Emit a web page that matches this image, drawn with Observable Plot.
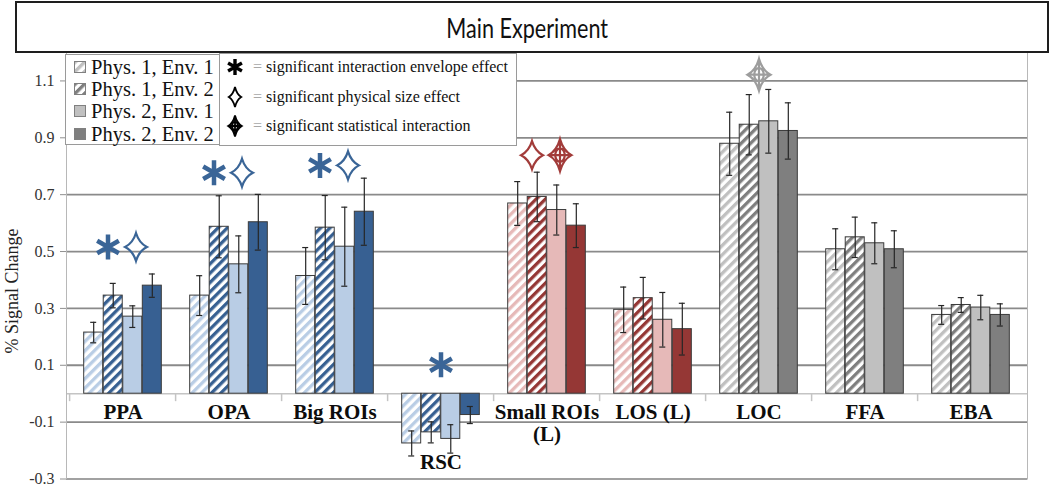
<!DOCTYPE html>
<html><head><meta charset="utf-8">
<script src="https://cdn.jsdelivr.net/npm/d3@7"></script>
<script src="https://cdn.jsdelivr.net/npm/@observablehq/plot@0.6"></script>
<style>
body{margin:0;background:#fff;width:1050px;height:485px;position:relative;overflow:hidden;font-family:"Liberation Serif",serif}
#title{position:absolute;left:15px;top:1px;width:1034px;height:52px;box-sizing:border-box;border:2px solid #1e1e1e;display:flex;align-items:center;justify-content:center;text-align:center;font-family:Lato,sans-serif;font-size:27px;color:#111;z-index:3;background:#fff;padding-right:10px}
#title span{display:inline-block;transform:scaleX(0.8)}
#chart{position:absolute;left:0;top:52px}
#ylabel{position:absolute;left:12px;top:291px;transform:translate(-50%,-50%) rotate(-90deg);font-size:18px;white-space:nowrap;color:#222;z-index:2}
.lg{position:absolute;background:#fff;border:1px solid #9a9a9a;box-sizing:border-box;z-index:2}
.row{position:absolute;display:flex;align-items:center;white-space:nowrap;color:#111}
</style></head><body>
<div id="title"><span>Main Experiment</span></div>
<div id="chart"></div>
<div id="ylabel">% Signal Change</div>
<div id="lg1" class="lg" style="left:65px;top:54px;width:155px;height:91px"></div>
<div id="lg2" class="lg" style="left:219px;top:53px;width:298px;height:93px"></div>
<script>
// ---------- data ----------
const categories = ["PPA","OPA","Big ROIs","RSC","Small ROIs (L)","LOS (L)","LOC","FFA","EBA"];
const categoryLabels = ["PPA","OPA","Big ROIs","RSC","Small ROIs\n(L)","LOS (L)","LOC","FFA","EBA"];
const categoryFamily = ["blue","blue","blue","blue","red","red","gray","gray","gray"];
const series = ["Phys. 1, Env. 1","Phys. 1, Env. 2","Phys. 2, Env. 1","Phys. 2, Env. 2"];

const phys1env1 = [0.215, 0.345, 0.414, -0.175, 0.669, 0.295, 0.879, 0.508, 0.277];
const phys1env2 = [0.345, 0.587, 0.584, -0.136, 0.692, 0.336, 0.946, 0.550, 0.312];
const phys2env1 = [0.271, 0.455, 0.517, -0.159, 0.646, 0.260, 0.958, 0.529, 0.303];
const phys2env2 = [0.380, 0.603, 0.640, -0.075, 0.591, 0.227, 0.924, 0.508, 0.277];

const err1 = [0.036, 0.070, 0.100, 0.044, 0.077, 0.080, 0.111, 0.072, 0.033];
const err2 = [0.043, 0.109, 0.113, 0.037, 0.087, 0.073, 0.106, 0.071, 0.026];
const err3 = [0.038, 0.100, 0.139, 0.050, 0.088, 0.096, 0.112, 0.072, 0.043];
const err4 = [0.041, 0.098, 0.118, 0.030, 0.077, 0.091, 0.099, 0.065, 0.039];

const yTicks = [-0.3, -0.1, 0.1, 0.3, 0.5, 0.7, 0.9, 1.1];

const markerCategories = ["PPA","PPA","OPA","OPA","Big ROIs","Big ROIs","RSC","Small ROIs (L)","Small ROIs (L)","LOC"];
const markerKinds = ["asterisk","diamond","asterisk","diamond","asterisk","diamond","asterisk","diamond","crossDiamond","crossDiamond"];
const markerLevels = [0.516, 0.516, 0.777, 0.777, 0.803, 0.803, 0.102, 0.839, 0.839, 1.122];

const legendKinds = ["asterisk","diamond","crossDiamond"];
const legendNotes = ["significant interaction envelope effect","significant physical size effect","significant statistical interaction"];

// ---------- styles ----------
const palette = {
  blue: {light:"#b9cde5", dark:"#376092", mark:"#3a6597"},
  red:  {light:"#e6b9b8", dark:"#953735", mark:"#a23c3a"},
  gray: {light:"#c0c0c0", dark:"#7f7f7f", mark:"#9d9d9d"}
};

// hatch patterns
const defs = d3.select("body").append("svg").attr("width",0).attr("height",0)
  .style("position","absolute").append("defs");
for (const [fam, c] of Object.entries(palette)) {
  for (const tone of ["light","dark"]) {
    const p = defs.append("pattern").attr("id", `hatch-${fam}-${tone}`)
      .attr("patternUnits","userSpaceOnUse").attr("width",6.6).attr("height",6.6)
      .attr("patternTransform","rotate(45)");
    p.append("rect").attr("width",6.6).attr("height",6.6).attr("fill","#fff");
    p.append("rect").attr("width",3.3).attr("height",6.6).attr("fill",c[tone]);
  }
}

// symbol shapes
function starPath(ctx, w, h, k) {
  ctx.moveTo(0,-h);
  ctx.quadraticCurveTo(w*k, -h*k, w, 0);
  ctx.quadraticCurveTo(w*k, h*k, 0, h);
  ctx.quadraticCurveTo(-w*k, h*k, -w, 0);
  ctx.quadraticCurveTo(-w*k, -h*k, 0, -h);
  ctx.closePath();
}
function asteriskPath(ctx, r) {
  const t = r*Math.sin(Math.PI/6), u = r*Math.cos(Math.PI/6);
  ctx.moveTo(0,-r); ctx.lineTo(0,r);
  ctx.moveTo(-u,-t); ctx.lineTo(u,t);
  ctx.moveTo(-u,t); ctx.lineTo(u,-t);
}
function crossPath(ctx, w, h) {
  starPath(ctx, w, h, 0.28);
  ctx.moveTo(0,-h); ctx.lineTo(0,h);
  ctx.moveTo(-w,0); ctx.lineTo(w,0);
  const a = w*0.42, b = h*0.42;
  ctx.moveTo(0,-b); ctx.quadraticCurveTo(a*0.9,-b*0.9,a,0); ctx.quadraticCurveTo(a*0.9,b*0.9,0,b);
  ctx.quadraticCurveTo(-a*0.9,b*0.9,-a,0); ctx.quadraticCurveTo(-a*0.9,-b*0.9,0,-b); ctx.closePath();
}
const symbols = {
  asterisk: {draw(ctx, size){ asteriskPath(ctx, Math.sqrt(size/Math.PI)); }},
  diamond: {draw(ctx, size){ const h = Math.sqrt(size/Math.PI); starPath(ctx, h*0.78, h, 0.28); }},
  crossDiamond: {draw(ctx, size){ const h = Math.sqrt(size/Math.PI); crossPath(ctx, h*0.72, h); }}
};
const symbolStyle = {
  asterisk: {r: 12.5, strokeWidth: 4.5},
  diamond: {r: 14, strokeWidth: 2.2},
  crossDiamond: {r: 16, strokeWidth: 2.2}
};

// ---------- table ----------
const values = [phys1env1, phys1env2, phys2env1, phys2env2];
const errors = [err1, err2, err3, err4];
const rows = [];
series.forEach((s, si) => categories.forEach((c, ci) => {
  const fam = categoryFamily[ci];
  const fill = si === 0 ? `url(#hatch-${fam}-light)` : si === 1 ? `url(#hatch-${fam}-dark)`
             : si === 2 ? palette[fam].light : palette[fam].dark;
  rows.push({series: s, si, cat: c, v: values[si][ci], e: errors[si][ci], fill});
}));
const labelRows = categories.map((c, ci) => ({
  cat: c, label: categoryLabels[ci], low: Math.min(0, ...values.map(s => s[ci]))
}));

// ---------- layout ----------
const W = 1050, H = 433, mL = 66, mR = 23;
const pInner = 0.817;
const step = (W - mL - mR) / categories.length;
const bw = step * (1 - pInner);

const marks = [
  Plot.ruleY(yTicks, {stroke: "#8a8a8a", strokeWidth: 1.8}),
  Plot.ruleY([0], {stroke: "#c4c4c4", strokeWidth: 1.5}),
  Plot.ruleX(categories, {x: d => d, dx: -step/2, y1: 0, y2: -0.028, stroke: "#c4c4c4", strokeWidth: 1.5}),
  Plot.frame({stroke: "#b8b8b8"}),
  Plot.axisY({ticks: yTicks, tickFormat: d => d.toFixed(1), tickSize: 6, tickPadding: 6,
    fontSize: 16, stroke: "#8f8f8f", fill: "#333", label: null})
];
series.forEach((s, si) => {
  const sub = rows.filter(d => d.si === si);
  const dx = (si - 1.5) * bw;
  marks.push(Plot.barY(sub, {x: "cat", y: "v", dx, fill: "fill", stroke: "#3b3b3b", strokeWidth: 1, inset: 0}));
  marks.push(Plot.ruleX(sub, {x: "cat", y1: d => d.v - d.e, y2: d => d.v + d.e, dx, stroke: "#262626", strokeWidth: 1.2}));
  marks.push(Plot.tickY(sub, {x: "cat", y: d => d.v + d.e, dx, inset: 6.5, stroke: "#262626", strokeWidth: 1.2}));
  marks.push(Plot.tickY(sub, {x: "cat", y: d => d.v - d.e, dx, inset: 6.5, stroke: "#262626", strokeWidth: 1.2}));
});
marks.push(Plot.text(labelRows, {x: "cat", y: "low", text: "label", lineAnchor: "top", dy: 10,
  fontSize: 21, fontWeight: "bold", lineHeight: 1.05, fill: "#0d0d0d"}));
markerCategories.forEach((c, mi) => {
  const group = markerCategories.map((cc, j) => j).filter(j => markerCategories[j] === c);
  const pos = group.indexOf(mi);
  const dx = group.length === 1 ? 0 : (pos === 0 ? -15 : 13);
  const fam = categoryFamily[categories.indexOf(c)];
  const kind = markerKinds[mi];
  marks.push(Plot.dot([{cat: c, level: markerLevels[mi]}], {x: "cat", y: "level", dx,
    symbol: symbols[kind], r: symbolStyle[kind].r, stroke: palette[fam].mark,
    strokeWidth: symbolStyle[kind].strokeWidth, fill: "none"}));
});

const chart = Plot.plot({
  width: W, height: H,
  marginLeft: mL, marginRight: mR, marginTop: 0, marginBottom: 6.5,
  x: {domain: categories, paddingInner: pInner, paddingOuter: pInner/2, axis: null},
  y: {domain: [-0.3, 1.2], axis: null},
  color: {type: "identity"},
  style: {fontFamily: "Liberation Serif", fontSize: "16px", background: "transparent", overflow: "visible"},
  marks
});
document.getElementById("chart").appendChild(chart);

// ---------- legends ----------
const legendFill = ["url(#hatch-gray-light)", "url(#hatch-gray-dark)", palette.gray.light, palette.gray.dark];
const lg1 = d3.select("#lg1");
series.forEach((s, i) => {
  const row = lg1.append("div").attr("class","row")
    .style("left","8px").style("top", `${12 + i*22.4 - 12}px`).style("height","24px");
  const sw = row.append("svg").attr("width",13).attr("height",13).style("margin-right","4px");
  sw.append("rect").attr("x",0.5).attr("y",0.5).attr("width",11).attr("height",11)
    .attr("fill", legendFill[i]).attr("stroke","#808080");
  row.append("span").text(s).style("font-size","20.5px");
});
const lg2 = d3.select("#lg2");
const legendIcon = {
  asterisk: ctx => asteriskPath(ctx, 8),
  diamond: ctx => starPath(ctx, 6.2, 10, 0.28),
  crossDiamond: ctx => crossPath(ctx, 6.8, 10.5)
};
legendKinds.forEach((k, i) => {
  const row = lg2.append("div").attr("class","row")
    .style("left","3px").style("top", `${13 + i*29.5 - 12}px`).style("height","24px");
  const svg = row.append("svg").attr("width",24).attr("height",24).style("margin-right","6px");
  const p = d3.path(); legendIcon[k](p);
  svg.append("path").attr("d", p.toString()).attr("transform","translate(12,12)")
    .attr("fill","none").attr("stroke","#000").attr("stroke-width", k === "asterisk" ? 3.4 : 1.8);
  const t = row.append("span").style("font-size","16px");
  t.append("span").text("= ").style("color","#a8a8a8");
  t.append("span").text(legendNotes[i]);
});
</script>
</body></html>
